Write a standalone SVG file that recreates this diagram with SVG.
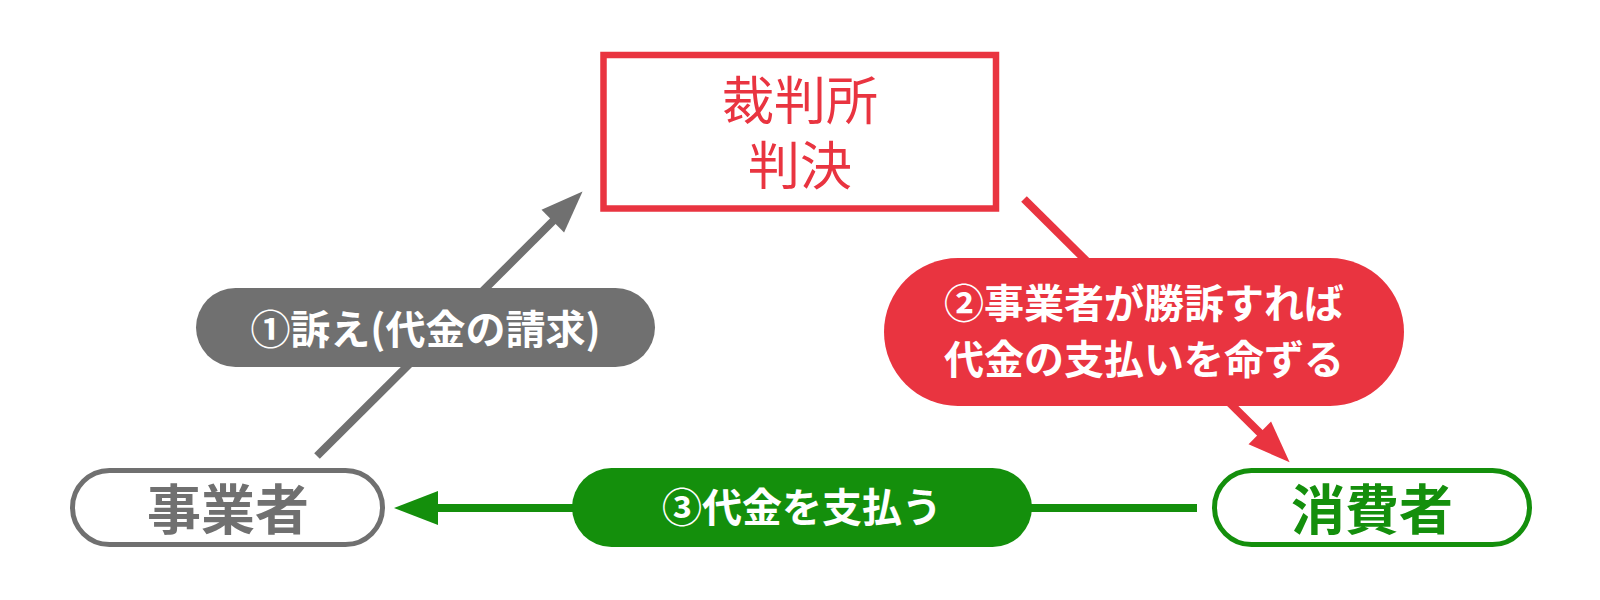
<svg xmlns="http://www.w3.org/2000/svg" width="1600" height="600" viewBox="0 0 1600 600">
  <style>
    .jp { font-family: "Noto Sans CJK JP", "Noto Sans", sans-serif; text-anchor: middle; }
    .big { font-size: 52px; }
    .node { font-size: 54px; font-weight: bold; }
    .lbl { font-size: 40px; font-weight: bold; fill: #ffffff; }
    .conn { fill: none; stroke-width: 8; stroke-linecap: butt; }
  </style>
  <defs>
    <marker id="headGray" markerUnits="userSpaceOnUse" markerWidth="60" markerHeight="60" refX="1" refY="0" viewBox="-5 -30 60 60" orient="auto" overflow="visible">
      <path d="M0,-16 L42,0 L0,16 Z" fill="#707070"/>
    </marker>
    <marker id="headRed" markerUnits="userSpaceOnUse" markerWidth="60" markerHeight="60" refX="1" refY="0" viewBox="-5 -30 60 60" orient="auto" overflow="visible">
      <path d="M0,-16 L42,0 L0,16 Z" fill="#E93440"/>
    </marker>
    <marker id="headGreen" markerUnits="userSpaceOnUse" markerWidth="60" markerHeight="60" refX="1" refY="0" viewBox="-5 -30 60 60" orient="auto" overflow="visible">
      <path d="M0,-17 L44,0 L0,17 Z" fill="#148F0C"/>
    </marker>
  </defs>
  <rect width="1600" height="600" fill="#ffffff"/>

  <g id="connectors">
    <line class="conn" x1="317" y1="456" x2="553.5" y2="220.5" stroke="#707070" marker-end="url(#headGray)"/>
    <line class="conn" x1="1024" y1="199" x2="1260.5" y2="433.5" stroke="#E93440" marker-end="url(#headRed)"/>
    <line class="conn" x1="1197" y1="508" x2="437" y2="508" stroke="#148F0C" marker-end="url(#headGreen)"/>
  </g>

  <g id="court">
    <rect x="603.5" y="55" width="392.5" height="153.5" fill="#ffffff" stroke="#E93440" stroke-width="6.5"/>
    <text class="jp big" x="800" y="120" fill="#E93440">裁判所</text>
    <text class="jp big" x="800" y="185" fill="#E93440">判決</text>
  </g>

  <g id="label1">
    <rect x="196" y="288" width="459" height="79" rx="39.5" fill="#707070"/>
    <text class="jp lbl" x="425.5" y="344">①訴え(代金の請求)</text>
  </g>

  <g id="label2">
    <rect x="884" y="258" width="520" height="148" rx="74" fill="#E93440"/>
    <text class="jp lbl" x="1144" y="318">②事業者が勝訴すれば</text>
    <text class="jp lbl" x="1144" y="374">代金の支払いを命ずる</text>
  </g>

  <g id="label3">
    <rect x="572" y="468" width="460" height="79" rx="39.5" fill="#148F0C"/>
    <text class="jp lbl" x="802" y="522">③代金を支払う</text>
  </g>

  <g id="business">
    <rect x="72.5" y="470.5" width="310" height="74" rx="37" fill="#ffffff" stroke="#707070" stroke-width="5"/>
    <text class="jp node" x="228" y="530" fill="#707070">事業者</text>
  </g>

  <g id="consumer">
    <rect x="1214.5" y="470.5" width="315" height="74" rx="37" fill="#ffffff" stroke="#148F0C" stroke-width="5"/>
    <text class="jp node" x="1372" y="530" fill="#148F0C">消費者</text>
  </g>
</svg>
